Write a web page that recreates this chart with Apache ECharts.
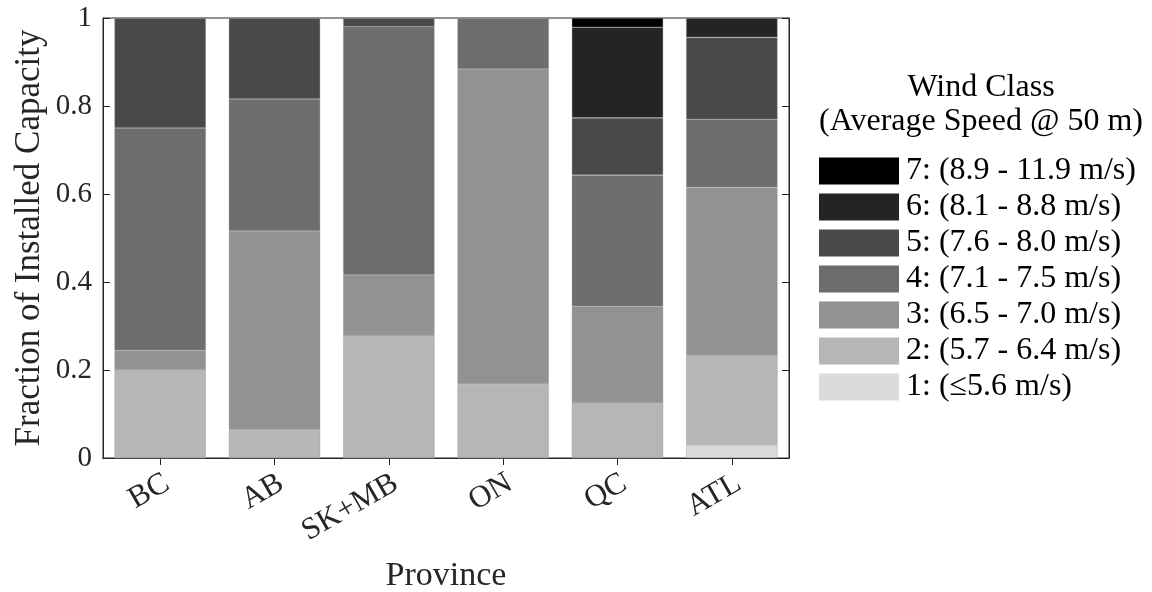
<!DOCTYPE html>
<html>
<head>
<meta charset="utf-8">
<script src="https://cdn.jsdelivr.net/npm/echarts@6/dist/echarts.min.js"></script>
<style>
  html, body { margin: 0; padding: 0; background: #fff; }
  #chart { width: 1152px; height: 592px; }
</style>
</head>
<body>
<div id="chart"></div>
<script>
// Provinces along the horizontal axis
const provinces = ['BC', 'AB', 'SK+MB', 'ON', 'QC', 'ATL'];

// Fraction of installed capacity per wind class, one entry per province
const class1 = [0.000, 0.000, 0.000, 0.000, 0.000, 0.030];
const class2 = [0.200, 0.064, 0.277, 0.168, 0.125, 0.202];
const class3 = [0.045, 0.452, 0.139, 0.716, 0.220, 0.383];
const class4 = [0.505, 0.300, 0.564, 0.116, 0.298, 0.155];
const class5 = [0.250, 0.184, 0.020, 0.000, 0.130, 0.186];
const class6 = [0.000, 0.000, 0.000, 0.000, 0.206, 0.044];
const class7 = [0.000, 0.000, 0.000, 0.000, 0.021, 0.000];

// Legend labels for each class (speed range at 50 m)
const classLabels = [
  '1: (\u22645.6 m/s)',
  '2: (5.7 - 6.4 m/s)',
  '3: (6.5 - 7.0 m/s)',
  '4: (7.1 - 7.5 m/s)',
  '5: (7.6 - 8.0 m/s)',
  '6: (8.1 - 8.8 m/s)',
  '7: (8.9 - 11.9 m/s)'
];
const classValues = [class1, class2, class3, class4, class5, class6, class7];
const classColors = ['#dbdbdb', '#b6b6b6', '#929292', '#6d6d6d', '#494949', '#242424', '#000000'];

const FONT = 'Liberation Serif';
const AXIS_COLOR = '#262626';

const chart = echarts.init(document.getElementById('chart'), null, { renderer: 'canvas' });

const series = classValues.map((vals, i) => ({
  name: classLabels[i],
  type: 'bar',
  stack: 'capacity',
  barCategoryGap: '20%',
  data: vals,
  itemStyle: { color: classColors[i], borderColor: 'rgba(140,140,140,0.6)', borderWidth: 0.6 },
  emphasis: { disabled: true },
  animation: false
}));

const tickStyle = { show: true, inside: true, length: 7, lineStyle: { color: AXIS_COLOR, width: 1 } };

chart.setOption({
  animation: false,
  grid: {
    left: 103, top: 18, right: 363, bottom: 134,
    outerBoundsMode: 'none',
    containLabel: false,
    show: true, borderColor: AXIS_COLOR, borderWidth: 1, backgroundColor: 'transparent'
  },
  graphic: [
    {
      type: 'text', position: [981, 88],
      style: { text: 'Wind Class', fontFamily: FONT, fontSize: 32, fill: '#000',
               textAlign: 'center', textVerticalAlign: 'middle' }
    },
    {
      type: 'text', position: [981, 122],
      style: { text: '(Average Speed @ 50 m)', fontFamily: FONT, fontSize: 32, fill: '#000',
               textAlign: 'center', textVerticalAlign: 'middle' }
    }
  ],
  legend: {
    orient: 'vertical',
    left: 819, top: 155,
    padding: 0,
    icon: 'rect',
    itemWidth: 80,
    itemHeight: 27,
    itemGap: 4,
    selectedMode: false,
    data: classLabels.slice().reverse(),
    itemStyle: { borderWidth: 0 },
    textStyle: { fontFamily: FONT, fontSize: 32, color: '#000', padding: [0, 0, 0, 2] }
  },
  xAxis: [
    {
      type: 'category',
      data: provinces,
      position: 'bottom',
      name: 'Province',
      nameLocation: 'middle',
      nameGap: 101,
      nameMoveOverlap: false,
      nameTextStyle: { fontFamily: FONT, fontSize: 34, color: AXIS_COLOR },
      axisLine: { show: true, lineStyle: { color: AXIS_COLOR, width: 1 } },
      axisTick: Object.assign({ alignWithLabel: true }, tickStyle),
      axisLabel: { rotate: 30, margin: 27, padding: [0, -8, 0, 0], fontFamily: FONT, fontSize: 31, color: AXIS_COLOR },
      splitLine: { show: false }
    },
    {
      type: 'category',
      data: provinces,
      position: 'top',
      axisLine: { show: true, lineStyle: { color: AXIS_COLOR, width: 1 } },
      axisTick: Object.assign({ alignWithLabel: true }, tickStyle),
      axisLabel: { show: false },
      splitLine: { show: false }
    }
  ],
  yAxis: [
    {
      type: 'value',
      min: 0, max: 1, interval: 0.2,
      position: 'left',
      name: 'Fraction of Installed Capacity',
      nameLocation: 'middle',
      nameGap: 56,
      nameMoveOverlap: false,
      nameTextStyle: { fontFamily: FONT, fontSize: 35, color: AXIS_COLOR },
      axisLine: { show: true, lineStyle: { color: AXIS_COLOR, width: 1 } },
      axisTick: tickStyle,
      axisLabel: { margin: 11, fontFamily: FONT, fontSize: 29, color: AXIS_COLOR },
      splitLine: { show: false }
    },
    {
      type: 'value',
      min: 0, max: 1, interval: 0.2,
      position: 'right',
      axisLine: { show: true, lineStyle: { color: AXIS_COLOR, width: 1 } },
      axisTick: tickStyle,
      axisLabel: { show: false },
      splitLine: { show: false }
    }
  ],
  series: series
});
</script>
</body>
</html>
